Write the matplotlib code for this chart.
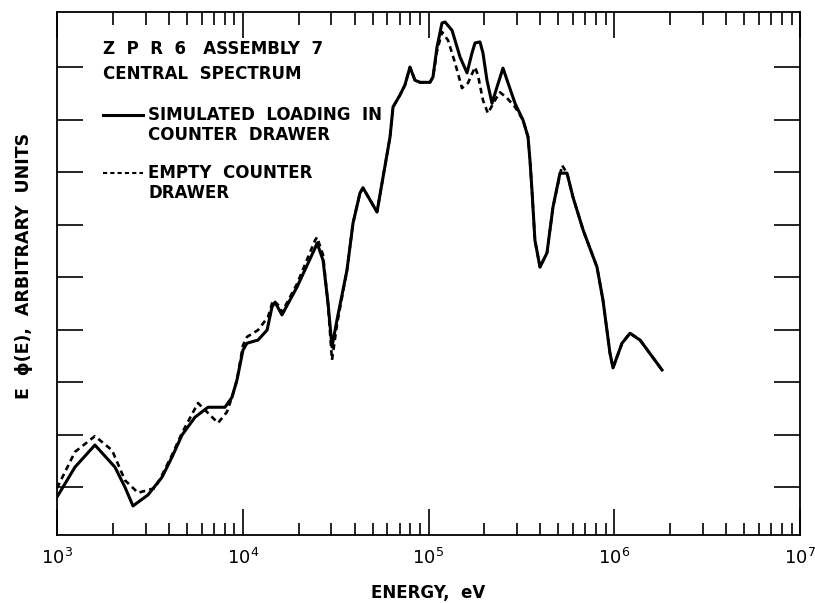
import matplotlib
matplotlib.use("Agg")
import matplotlib.pyplot as plt
from matplotlib.ticker import LogLocator, NullFormatter, FixedLocator

# Energy (eV) and E*phi(E) (arbitrary units)
energy_loaded = [1000, 1250, 1600, 2050, 2320, 2565, 3090, 3680, 4160, 4710,
                 5530, 6500, 7360, 8020, 8750, 9310, 10030, 10540, 12080, 13520,
                 14370, 14920, 16260, 19590, 24490, 25120, 27060, 28790, 30230, 32150,
                 36390, 39240, 42760, 44390, 52820, 56900, 62080, 64420, 70260, 74690,
                 79460, 84550, 89950, 101800, 105700, 111100, 118200, 122700, 133900, 147900,
                 161200, 171500, 178000, 189300, 196400, 206400, 219700, 233700, 251800, 267900,
                 292300, 322800, 343400, 351700, 360500, 374100, 398200, 434300, 467800, 510300,
                 556800, 599900, 679300, 807400, 869600, 948200, 984600, 1101000, 1216000, 1377000,
                 1808000]
flux_loaded = [0.81, 1.38, 1.80, 1.38, 1.00, 0.64, 0.85, 1.19, 1.57, 1.99,
               2.33, 2.52, 2.52, 2.52, 2.71, 3.04, 3.61, 3.74, 3.80, 3.99,
               4.43, 4.52, 4.28, 4.81, 5.55, 5.65, 5.32, 4.50, 3.67, 4.18,
               5.13, 6.03, 6.60, 6.70, 6.24, 6.90, 7.67, 8.24, 8.47, 8.66,
               9.00, 8.75, 8.71, 8.71, 8.81, 9.38, 9.84, 9.86, 9.70, 9.19,
               8.89, 9.27, 9.46, 9.48, 9.27, 8.75, 8.31, 8.62, 8.98, 8.70,
               8.31, 7.99, 7.67, 7.23, 6.66, 5.70, 5.19, 5.46, 6.33, 6.98,
               6.98, 6.52, 5.90, 5.19, 4.56, 3.55, 3.27, 3.74, 3.93, 3.80,
               3.23]

energy_empty = [1000, 1250, 1600, 1980, 2320, 2730, 3370, 3680, 4160, 4710,
                5740, 6500, 7360, 8220, 8750, 9310, 10030, 10540, 12080, 13680,
                14550, 15490, 16260, 19590, 24490, 25120, 27060, 28790, 30230, 32150,
                36390, 39240, 42760, 44390, 52820, 56900, 62080, 64420, 70260, 74690,
                79460, 84550, 89950, 101800, 105700, 111100, 118200, 127400, 139000, 151400,
                163300, 178000, 184500, 196400, 208900, 228000, 242700, 264900, 292300, 322800,
                343400, 351700, 360500, 374100, 398200, 434300, 467800, 523600,
                556800, 599900, 679300, 807400, 869600, 948200, 984600, 1101000, 1216000, 1377000,
                1808000]
flux_empty = [0.98, 1.67, 1.97, 1.70, 1.13, 0.89, 0.98, 1.23, 1.61, 2.03,
              2.60, 2.41, 2.22, 2.43, 2.71, 3.04, 3.70, 3.86, 3.99, 4.24,
              4.56, 4.47, 4.33, 4.87, 5.70, 5.76, 5.42, 4.47, 3.42, 4.09,
              5.13, 6.03, 6.60, 6.70, 6.24, 6.90, 7.67, 8.24, 8.47, 8.66,
              9.00, 8.75, 8.71, 8.71, 8.81, 9.30, 9.67, 9.51, 9.08, 8.60,
              8.70, 9.00, 8.85, 8.37, 8.12, 8.37, 8.52, 8.41, 8.24, 7.99,
              7.67, 7.23, 6.66, 5.70, 5.19, 5.46, 6.33, 7.13,
              6.98, 6.52, 5.90, 5.19, 4.56, 3.55, 3.27, 3.74, 3.93, 3.80,
              3.23]

x_decades = [1e3, 1e4, 1e5, 1e6, 1e7]
x_tick_labels = [r"$10^3$", r"$10^4$", r"$10^5$", r"$10^6$", r"$10^7$"]
y_ticks = [1, 2, 3, 4, 5, 6, 7, 8, 9]

title_lines = ["Z  P  R  6   ASSEMBLY  7", "CENTRAL  SPECTRUM"]
legend_loaded = ["SIMULATED  LOADING  IN", "COUNTER  DRAWER"]
legend_empty = ["EMPTY  COUNTER", "DRAWER"]

fig = plt.figure(figsize=(8.15, 6.03), dpi=100)
ax = fig.add_axes([57 / 815, 1 - 535 / 603, (800 - 57) / 815, (535 - 12) / 603])

ax.plot(energy_empty, flux_empty, color="black", lw=1.9, ls=(0, (2.2, 1.6)))
ax.plot(energy_loaded, flux_loaded, color="black", lw=2.2)

ax.set_xscale("log")
ax.set_xlim(1e3, 1e7)
ax.set_ylim(0.086, 10.05)

ax.xaxis.set_major_locator(FixedLocator(x_decades))
ax.set_xticklabels(x_tick_labels, fontsize=13)
ax.xaxis.set_minor_locator(LogLocator(base=10, subs=range(2, 10)))
ax.xaxis.set_minor_formatter(NullFormatter())
ax.set_yticks(y_ticks)
ax.set_yticklabels([])
ax.yaxis.set_minor_locator(FixedLocator([]))

ax.tick_params(axis="x", which="major", direction="in", length=19, width=1.2,
               top=True, bottom=True, pad=9)
ax.tick_params(axis="x", which="minor", direction="in", length=9, width=1.2,
               top=True, bottom=True)
ax.tick_params(axis="y", which="major", direction="in", length=19, width=1.2,
               left=True, right=True)
for s in ax.spines.values():
    s.set_linewidth(1.3)

ax.set_xlabel("ENERGY,  eV", fontsize=12, fontweight="bold", labelpad=12)
fig.text(24 / 815, 1 - 266 / 603, "E  ϕ(E),  ARBITRARY  UNITS", rotation=90,
         fontsize=12.5, fontweight="bold", ha="center", va="center")

def px(x, y):
    return x / 815, 1 - y / 603

tfs = 12
fig.text(*px(103, 49), title_lines[0], fontsize=tfs, fontweight="bold", ha="left", va="center")
fig.text(*px(103, 74), title_lines[1], fontsize=tfs, fontweight="bold", ha="left", va="center")

fig.add_artist(plt.Line2D([103 / 815, 143 / 815], [1 - 115 / 603] * 2,
                          color="black", lw=2.2, transform=fig.transFigure))
fig.text(*px(148, 115), legend_loaded[0], fontsize=tfs, fontweight="bold", ha="left", va="center")
fig.text(*px(148, 135), legend_loaded[1], fontsize=tfs, fontweight="bold", ha="left", va="center")
fig.add_artist(plt.Line2D([103 / 815, 143 / 815], [1 - 173 / 603] * 2,
                          color="black", lw=1.5, ls=(0, (2, 1.5)),
                          transform=fig.transFigure))
fig.text(*px(148, 173), legend_empty[0], fontsize=tfs, fontweight="bold", ha="left", va="center")
fig.text(*px(148, 193), legend_empty[1], fontsize=tfs, fontweight="bold", ha="left", va="center")

fig.savefig("out.png", dpi=100)
